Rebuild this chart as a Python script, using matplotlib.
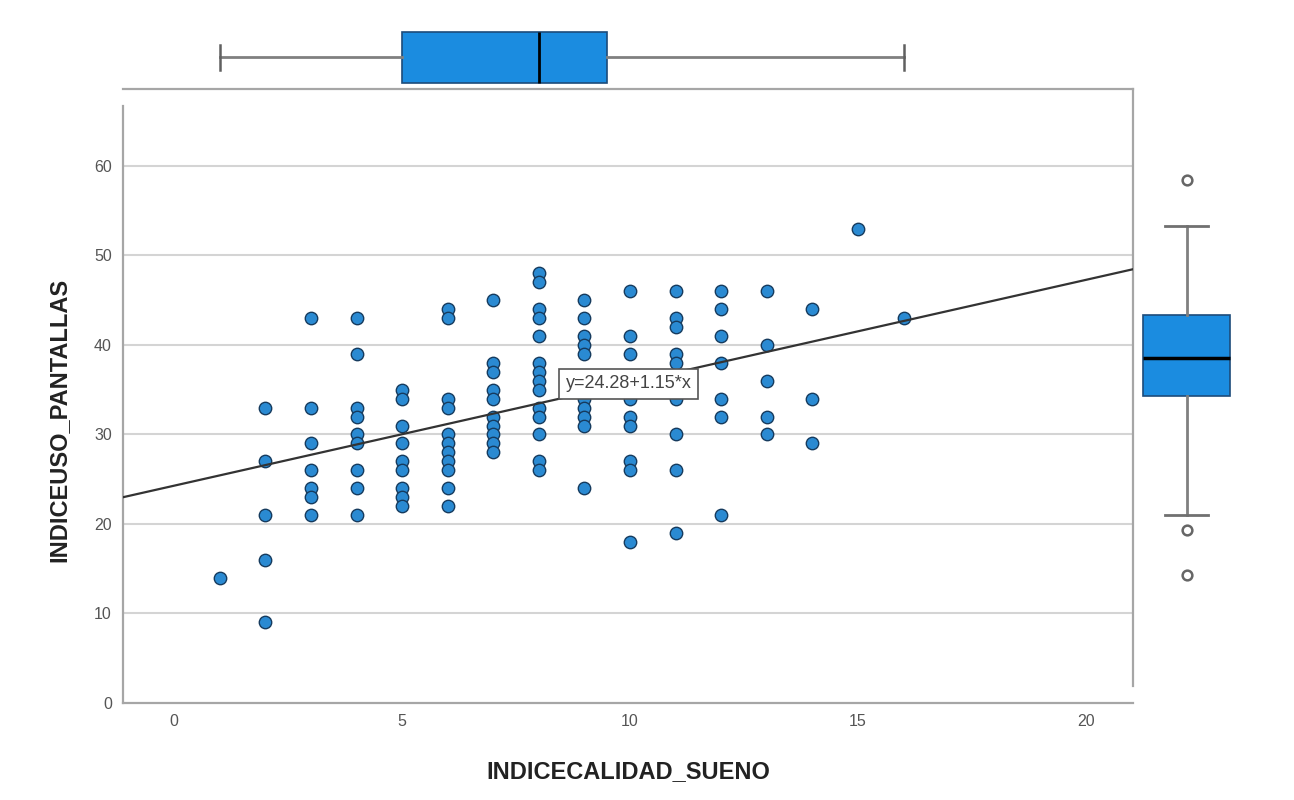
import matplotlib
matplotlib.use("Agg")
import matplotlib.pyplot as plt
import numpy as np

plt.rcParams['font.family'] = ['Liberation Sans', 'DejaVu Sans']

# scatter data: one column of screen-use values per sleep-quality score
sleep_scores = [1, 2, 3, 4, 5, 6, 7, 8, 9, 10, 11, 12, 13, 14, 15, 16]
screen_values = [
    [14],
    [33, 27, 21, 16, 9],
    [43, 33, 29, 26, 24, 23, 21],
    [43, 39, 33, 32, 30, 29, 26, 24, 21],
    [35, 34, 31, 29, 27, 26, 24, 23, 22],
    [44, 43, 34, 33, 30, 29, 28, 27, 26, 24, 22],
    [45, 38, 37, 35, 34, 32, 31, 30, 29, 28],
    [48, 47, 44, 43, 41, 38, 37, 36, 35, 33, 32, 30, 27, 26],
    [45, 43, 41, 40, 39, 34, 33, 32, 31, 24],
    [46, 41, 39, 34, 32, 31, 27, 26, 18],
    [46, 43, 42, 39, 38, 34, 30, 26, 19],
    [46, 44, 41, 38, 34, 32, 21],
    [46, 40, 36, 32, 30],
    [44, 34, 29],
    [53],
    [43],
]

intercept = 24.28
slope = 1.15
fit_label = "y=24.28+1.15*x"

# marginal boxplot summaries
sleep_box = dict(whislo=1, q1=5, med=8, q3=9.5, whishi=16, fliers=[])
screen_box = dict(whislo=21, q1=34.3, med=38.5, q3=43.3, whishi=53.3,
                  fliers=[58.4, 19.3, 14.3])

x_ticks = [0, 5, 10, 15, 20]
y_ticks = [0, 10, 20, 30, 40, 50, 60]

xs, ys = [], []
for s, vals in zip(sleep_scores, screen_values):
    for v in vals:
        xs.append(s)
        ys.append(v)

blue = '#1b8ce0'
dot_blue = '#2a8ad2'
spine_c = '#a6a6a6'
grid_c = '#d4d4d4'
text_c = '#555555'

fig = plt.figure(figsize=(12.94, 8), dpi=100)
ax = fig.add_axes([0.0951, 0.12125, 0.7805, 0.7675])
ax_top = fig.add_axes([0.0951, 0.89, 0.7805, 0.085], sharex=ax)
ax_right = fig.add_axes([0.8756, 0.12125, 0.1213, 0.7675], sharey=ax)

xmin, xmax = -1.12, 21.03
ax.set_xlim(xmin, xmax)
ax.set_ylim(0, 68.6)

for y in y_ticks[1:]:
    ax.axhline(y, color=grid_c, lw=1.5, zorder=0)

ax.scatter(xs, ys, s=80, facecolor=dot_blue, edgecolor='#163b5e', linewidth=1.0, zorder=3)

line_x = np.array([xmin, xmax])
ax.plot(line_x, intercept + slope * line_x, color='#333333', lw=1.6, zorder=4)

lx = 8.45
ax.annotate(fit_label, xy=(lx, intercept + slope * lx), xytext=(4.5, 4.5),
            textcoords='offset points', ha='left', va='bottom', fontsize=13,
            color='#444444', zorder=5,
            bbox=dict(boxstyle='square,pad=0.35', fc='white', ec='#555555', lw=1.2))

ax.set_xticks(x_ticks)
ax.set_yticks(y_ticks)
ax.tick_params(length=0, labelsize=11.5, labelcolor=text_c, pad=8)
for sp in ax.spines.values():
    sp.set_color(spine_c)
    sp.set_linewidth(1.6)
ax.spines['left'].set_bounds(0, 66.7)
ax.spines['right'].set_bounds(1.9, 68.6)

ax.set_xlabel("INDICECALIDAD_SUENO", fontsize=17, fontweight='bold', color='#222222', labelpad=22)
ax.set_ylabel("INDICEUSO_PANTALLAS", fontsize=17, fontweight='bold', color='#222222')
ax.yaxis.set_label_coords(-0.0525, 0.461)

# top marginal boxplot
ax_top.set_ylim(0, 1)
ax_top.bxp([sleep_box], positions=[0.45], widths=0.75, capwidths=0.37,
           orientation='horizontal', patch_artist=True, showfliers=False,
           boxprops=dict(facecolor=blue, edgecolor='#1d4c7a', linewidth=1.2),
           medianprops=dict(color='black', linewidth=2),
           whiskerprops=dict(color='#808080', linewidth=2),
           capprops=dict(color='#606060', linewidth=1.8))
ax_top.axis('off')

# right marginal boxplot
ax_right.set_xlim(0, 1)
ax_right.bxp([screen_box], positions=[0.341], widths=0.554, capwidths=0.27,
             patch_artist=True, showfliers=True,
             boxprops=dict(facecolor=blue, edgecolor='#1d4c7a', linewidth=1.2),
             medianprops=dict(color='black', linewidth=2.5),
             whiskerprops=dict(color='#808080', linewidth=2),
             capprops=dict(color='#707070', linewidth=2),
             flierprops=dict(marker='o', markersize=7, markerfacecolor='white',
                             markeredgecolor='#666666', markeredgewidth=1.8))
ax_right.axis('off')

fig.savefig("out.png", dpi=100)
